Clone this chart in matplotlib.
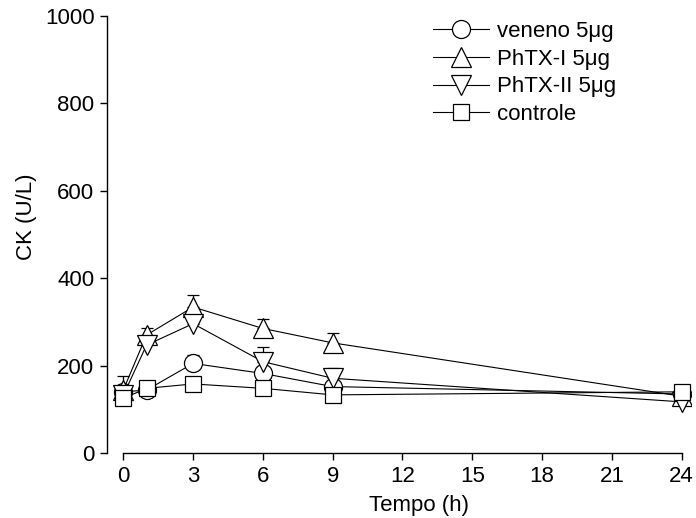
import numpy as np
import matplotlib
matplotlib.use("Agg")
import matplotlib.pyplot as plt

plt.rcParams['font.family'] = ['Liberation Sans', 'DejaVu Sans']

# tempo (h)
tempo = [0, 1, 3, 6, 9, 24]

# CK (U/L), mean values and upper error
veneno = [140, 144, 205, 182, 152, 135]
veneno_err = [5, 5, 19, 10, 5, 5]
phtx1 = [144, 270, 334, 285, 252, 130]
phtx1_err = [33, 16, 27, 21, 22, 10]
phtx2 = [132, 247, 296, 209, 171, 117]
phtx2_err = [5, 10, 15, 34, 23, 10]
controle = [125, 148, 158, 148, 133, 140]
controle_err = [10, 15, 10, 5, 5, 5]

series = [
    ("veneno 5\u03bcg", veneno, veneno_err, "o"),
    ("PhTX-I 5\u03bcg", phtx1, phtx1_err, "^"),
    ("PhTX-II 5\u03bcg", phtx2, phtx2_err, "v"),
    ("controle", controle, controle_err, "s"),
]
msize = {"o": 13, "^": 15, "v": 15, "s": 12}

W, H = 696, 518
fig = plt.figure(figsize=(W / 100, H / 100), dpi=100)
left, right, top, bottom = 107, 691, 16, 453
ax = fig.add_axes([left / W, 1 - bottom / H, (right - left) / W, (bottom - top) / H])

for label, vals, err, m in series:
    lower = np.zeros(len(err))
    ax.errorbar(tempo, vals, yerr=[lower, err], fmt="none", ecolor="black",
                elinewidth=0.9, capsize=4, capthick=0.9, zorder=2)
    ax.plot(tempo, vals, color="black", lw=0.8, marker=m, markersize=msize[m],
            markerfacecolor="white", markeredgecolor="black", markeredgewidth=0.9,
            label=label, zorder=3)

ax.set_xlim(-0.7, 24.4)
ax.set_ylim(0, 1000)
ax.set_xticks(range(0, 25, 3))
ax.set_yticks(range(0, 1001, 200))
ax.spines['top'].set_visible(False)
ax.spines['right'].set_visible(False)
ax.spines['bottom'].set_bounds(0, 24)
for s in ('left', 'bottom'):
    ax.spines[s].set_linewidth(1.0)
ax.tick_params(direction='out', length=5, width=1, labelsize=16, pad=4)

ax.set_xlabel("Tempo (h)", fontsize=16)
ax.xaxis.set_label_coords((419 - left) / (right - left), -0.097)
ax.set_ylabel("CK (U/L)", fontsize=16)
ax.yaxis.set_label_coords(-0.12, 0.54)

leg = ax.legend(loc="upper left", bbox_to_anchor=(433 / W, 1 - 21 / H),
                bbox_transform=fig.transFigure, frameon=False, fontsize=16,
                handlelength=2.5, handletextpad=0.4, labelspacing=0.3,
                borderaxespad=0, borderpad=0)

fig.savefig("out.png", dpi=100)
